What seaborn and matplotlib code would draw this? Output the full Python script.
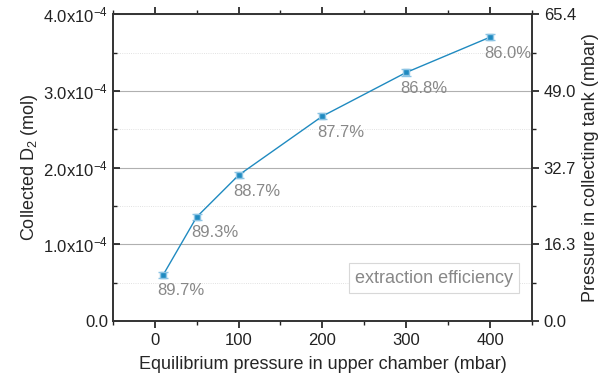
import numpy as np
import pandas as pd
import matplotlib
matplotlib.use("Agg")
import matplotlib.pyplot as plt
import seaborn as sns
from matplotlib.ticker import MultipleLocator, FixedLocator, FuncFormatter

pressure = [10, 50, 100, 200, 300, 400]
collected = [0.60e-4, 1.355e-4, 1.90e-4, 2.67e-4, 3.24e-4, 3.70e-4]
err = [0.04e-4, 0.04e-4, 0.04e-4, 0.04e-4, 0.04e-4, 0.04e-4]
efficiency = ["89.7%", "89.3%", "88.7%", "87.7%", "86.8%", "86.0%"]
right_ticks = ["0.0", "16.3", "32.7", "49.0", "65.4"]

df = pd.DataFrame({"p": pressure, "n": collected})

sns.set_theme(style="ticks")
plt.rcParams["font.family"] = ["Liberation Sans", "DejaVu Sans"]
plt.rcParams["mathtext.fontset"] = "custom"
plt.rcParams["mathtext.rm"] = "Liberation Sans"
plt.rcParams["mathtext.it"] = "Liberation Sans:italic"

blue = "#1f8ac0"
fig = plt.figure(figsize=(6.1, 3.83), dpi=100)
ax = fig.add_axes([0.185, 0.162, 0.687, 0.801])

ax.errorbar(pressure, collected, yerr=err, fmt="none", ecolor="#8cc4e4", capsize=3.5, elinewidth=1, zorder=3)
sns.lineplot(data=df, x="p", y="n", ax=ax, color=blue, marker="s", markersize=5,
             markeredgecolor="#8cc4e4", markeredgewidth=1, linewidth=1, zorder=4)

for x, y, s in zip(pressure, collected, efficiency):
    ax.annotate(s, (x, y), xytext=(-4, -6), textcoords="offset points",
                ha="left", va="top", color="#888888", fontsize=12)

ax.set_xlim(-50, 450)
ax.set_ylim(0, 4e-4)
ax.xaxis.set_major_locator(MultipleLocator(100))
ax.xaxis.set_minor_locator(MultipleLocator(50))
ax.yaxis.set_major_locator(FixedLocator([0, 1e-4, 2e-4, 3e-4, 4e-4]))
ax.yaxis.set_minor_locator(FixedLocator([0.5e-4, 1.5e-4, 2.5e-4, 3.5e-4]))


def fmt(v, pos):
    if abs(v) < 1e-9:
        return "0.0"
    return r"%.1fx10$^{-4}$" % (v / 1e-4)


ax.yaxis.set_major_formatter(FuncFormatter(fmt))
ax.grid(True, which="major", axis="y", color="#b0b0b0", linewidth=0.8)
ax.grid(True, which="minor", axis="y", color="#d8d8d8", linewidth=0.6, linestyle=":")
ax.tick_params(which="both", direction="out", labelsize=12, colors="#222222")
ax.tick_params(which="major", length=5)
ax.tick_params(which="minor", length=3)
ax.tick_params(top=True, which="both", direction="in")
ax.tick_params(axis="x", which="both", bottom=True, direction="out")

ax.set_xlabel("Equilibrium pressure in upper chamber (mbar)", fontsize=13, labelpad=6)
ax.set_ylabel("Collected D$_2$ (mol)", fontsize=13, labelpad=2)

ax2 = ax.twinx()
ax2.set_ylim(0, 65.4)
ax2.yaxis.set_major_locator(FixedLocator(np.linspace(0, 65.4, 5)))
ax2.yaxis.set_minor_locator(FixedLocator(np.linspace(0, 65.4, 9)))
ax2.set_yticklabels(right_ticks)
ax2.tick_params(which="both", direction="out", labelsize=12, colors="#222222")
ax2.tick_params(which="major", length=5)
ax2.tick_params(which="minor", length=3)
ax2.set_ylabel("Pressure in collecting tank (mbar)", fontsize=13)

for a in (ax, ax2):
    for sp in a.spines.values():
        sp.set_color("#333333")
        sp.set_linewidth(1.2)

ax.text(0.955, 0.14, "extraction efficiency", transform=ax.transAxes, ha="right", va="center",
        fontsize=13, color="#888888",
        bbox=dict(boxstyle="square,pad=0.35", fc="white", ec="#d8d8d8", lw=0.8))

fig.savefig("out.png", dpi=100)
